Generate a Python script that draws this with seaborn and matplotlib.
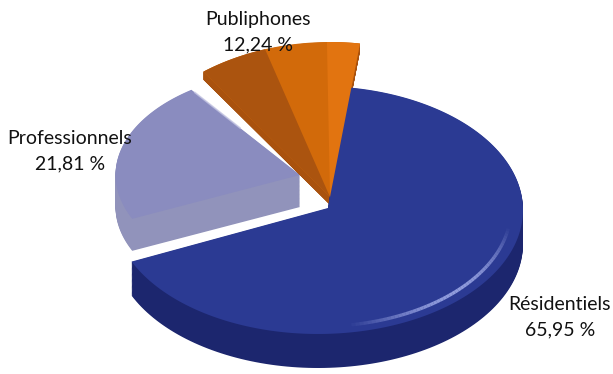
import numpy as np
import matplotlib
matplotlib.use("Agg")
import matplotlib.pyplot as plt
import seaborn as sns
from matplotlib.patches import Polygon

sns.set_theme(style="white")
plt.rcParams['font.family'] = ['Lato', 'DejaVu Sans']

# Market share by customer segment
categories = ["Résidentiels", "Professionnels", "Publiphones"]
shares = [65.95, 21.81, 12.24]
share_labels = ["65,95 %", "21,81 %", "12,24 %"]

top_colors = ["#2b3a93", "#8a8cbf", "#d26a0a"]
side_colors = ["#1c266e", "#9193bb", "#a9520e"]

# projected pie geometry (pixel units)
cx, cy = 318, 210
a, b = 205, 124
start = 82.0
# per-slice layout: center shift, apex shift, x/y scale, depth
shift = [(0, 0), (-18, -35), (12, -13)]
apex_shift = [(10, -2), (0, 0), (0, 0)]
scale = [(1.0, 1.0), (0.9, 0.85), (1.05, 1.25)]
depths = [34, 32, 8]

fig = plt.figure(figsize=(6.13, 3.74), dpi=100)
ax = fig.add_axes([0, 0, 1, 1])
ax.set_xlim(0, 613)
ax.set_ylim(374, 0)
ax.axis("off")

total = sum(shares)
angles = []
t = start
for s in shares:
    span = 360.0 * s / total
    angles.append((t - span, t))
    t -= span


def arc(i, t0, t1, n=160, dy=0.0, r=1.0):
    ox, oy = cx + shift[i][0], cy + shift[i][1]
    th = np.radians(np.linspace(t0, t1, n))
    xs = ox + r * scale[i][0] * a * np.cos(th)
    ys = oy - r * scale[i][1] * b * np.sin(th) + dy
    return xs, ys


def apex(i):
    return (cx + shift[i][0] + apex_shift[i][0],
            cy + shift[i][1] + apex_shift[i][1])


def wedge(i, t0, t1, dy=0.0):
    xs, ys = arc(i, t0, t1, dy=dy)
    px, py = apex(i)
    return np.vstack([[px, py + dy], np.column_stack([xs, ys]), [px, py + dy]])


for i in [1, 2, 0]:
    t0, t1 = angles[i]
    # extruded body
    for k in np.linspace(depths[i], 0.5, 40):
        ax.add_patch(Polygon(wedge(i, t0, t1, k), closed=True,
                             facecolor=side_colors[i], edgecolor="none"))
    # top face
    ax.add_patch(Polygon(wedge(i, t0, t1), closed=True,
                         facecolor=top_colors[i], edgecolor="none"))

# orange shading bands on the Publiphones face
t0, t1 = angles[2]
span = t1 - t0
ax.add_patch(Polygon(wedge(2, t1 - 0.42 * span, t1), closed=True,
                     facecolor="#ab540f", edgecolor="none"))
ax.add_patch(Polygon(wedge(2, t0, t0 + 0.2 * span), closed=True,
                     facecolor="#e27410", edgecolor="none"))

# light rim edge on the Professionnels face
px, py = apex(1)
xs, ys = arc(1, angles[1][0], angles[1][0], n=1)
ex, ey = xs[0], ys[0]
ax.plot([px + 0.55 * (ex - px), ex + 0.03 * (px - ex)],
        [py + 0.55 * (ey - py), ey + 0.03 * (py - ey)],
        color="#c3c4e2", lw=1.2, alpha=0.8, solid_capstyle="round")

# glossy highlight along the Résidentiels rim
hx, hy = arc(0, -8, -80, n=60, r=0.94)
for j in range(len(hx) - 1):
    w = np.sin(np.pi * j / (len(hx) - 1))
    ax.plot(hx[j:j + 2], hy[j:j + 2], color="#a3aeea", lw=2.4,
            alpha=0.85 * w, solid_capstyle="butt")

# labels
label_pos = {0: (560, 304), 1: (70, 138), 2: (258, 19)}
for i, name in enumerate(categories):
    x, y = label_pos[i]
    ax.text(x, y, name, ha="center", va="center", fontsize=14, color="#111111")
    ax.text(x, y + 26, share_labels[i], ha="center", va="center",
            fontsize=14, color="#111111")

fig.savefig("out.png", dpi=100)
